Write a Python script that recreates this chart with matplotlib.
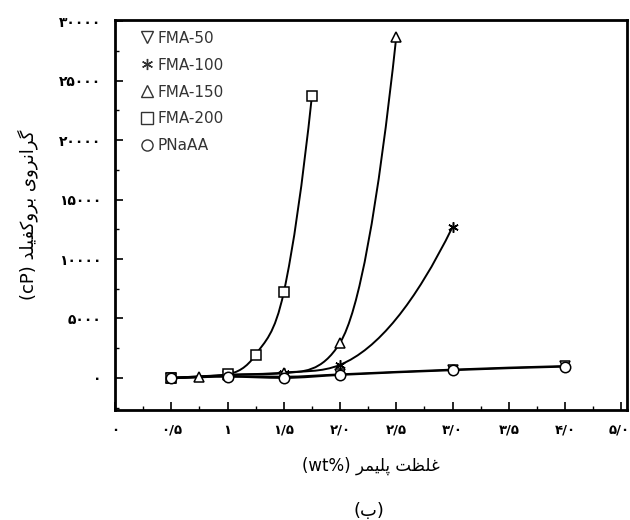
import numpy as np
import matplotlib
matplotlib.use("Agg")
import matplotlib.pyplot as plt
from matplotlib.lines import Line2D
from matplotlib.path import Path
from matplotlib.patches import PathPatch
from matplotlib.transforms import ScaledTranslation

# viscosity (cP) against polymer concentration (wt%)
series_names = ["FMA-50", "FMA-100", "FMA-150", "FMA-200", "PNaAA"]
fma50_x = [0.5, 1.0, 1.5, 2.0, 3.0, 4.0]
fma50_y = [0, 150, 100, 300, 700, 1000]
fma100_x = [0.5, 1.0, 1.5, 2.0, 3.0]
fma100_y = [0, 250, 450, 1100, 12700]
fma150_x = [0.5, 0.75, 1.0, 1.5, 2.0, 2.5]
fma150_y = [0, 100, 250, 400, 2950, 28700]
fma200_x = [0.5, 1.0, 1.25, 1.5, 1.75]
fma200_y = [0, 300, 1950, 7200, 23700]
pnaaa_x = [0.5, 1.0, 1.5, 2.0, 3.0, 4.0]
pnaaa_y = [0, 100, 0, 250, 650, 950]

x_ticks = [0, 0.5, 1.0, 1.5, 2.0, 2.5, 3.0, 3.5, 4.0, 4.5]
x_tick_labels = ["۰", "۰/۵", "۱", "۱/۵", "۲/۰", "۲/۵", "۳/۰", "۳/۵", "۴/۰", "۵/۰"]
y_ticks = [0, 5000, 10000, 15000, 20000, 25000, 30000]
y_tick_labels = ["۰", "۵۰۰۰", "۱۰۰۰۰", "۱۵۰۰۰", "۲۰۰۰۰", "۲۵۰۰۰", "۳۰۰۰۰"]

# Persian labels written in shaped presentation forms, visual order
y_label = "(cP) \ufeaa\ufee0\ufbff\ufed4\ufb90\ufeed\ufeae\ufe91 \ufbfc\ufeed\ufeae\ufee7\ufe8d\ufeae\ufb94"
x_label = "(wt%) \ufeae\ufee4\ufbff\ufee0\ufb58 \ufe96\ufec8\ufee0\ufecf"
caption = "(\ufe8f)"

markers = ["v", (6, 2, 0), "^", "s", "o"]


def smooth_path(xs, ys):
    # smooth cubic through the points (tangents clamped so it does not wiggle)
    xs = np.asarray(xs, float)
    ys = np.asarray(ys, float)
    h = np.diff(xs)
    d = np.diff(ys) / h
    m = np.zeros_like(ys)
    for i in range(1, len(xs) - 1):
        if d[i - 1] * d[i] <= 0:
            m[i] = 0
        else:
            lim = 3 * min(abs(d[i - 1]), abs(d[i]))
            m[i] = np.sign(d[i]) * min(abs(d[i - 1] + d[i]) / 2, lim)
    if len(xs) > 2:
        m[0] = np.clip(2 * d[0] - m[1], 0, 3 * d[0]) if d[0] > 0 else 0
        m[-1] = np.clip(2 * d[-1] - m[-2], 0, 3 * d[-1]) if d[-1] > 0 else 0
    else:
        m[0], m[-1] = d[0], d[-1]
    verts = [(xs[0], ys[0])]
    codes = [Path.MOVETO]
    for i in range(len(xs) - 1):
        verts += [(xs[i] + h[i] / 3, ys[i] + m[i] * h[i] / 3),
                  (xs[i + 1] - h[i] / 3, ys[i + 1] - m[i + 1] * h[i] / 3),
                  (xs[i + 1], ys[i + 1])]
        codes += [Path.CURVE4] * 3
    return Path(verts, codes)


fig = plt.figure(figsize=(6.3, 5.2), dpi=100)
ax = fig.add_axes([0.1825, 0.2115, 0.8127, 0.75])

data = [(fma50_x, fma50_y), (fma100_x, fma100_y), (fma150_x, fma150_y),
        (fma200_x, fma200_y), (pnaaa_x, pnaaa_y)]
handles = []
for (xs, ys), name, mk in zip(data, series_names, markers):
    ax.add_patch(PathPatch(smooth_path(xs, ys), fill=False,
                           edgecolor="black", lw=1.4, zorder=2))
    ax.plot(xs, ys, linestyle="none", marker=mk, ms=7.5,
            mfc="white", mec="black", mew=1.1, zorder=3)
    handles.append(Line2D([], [], linestyle="none", marker=mk, ms=8,
                          mfc="white", mec="#333333", mew=1.0, label=name))

ax.set_xlim(0, 4.55)
ax.set_ylim(-2700, 30100)
ax.set_xticks(x_ticks)
ax.set_xticklabels(x_tick_labels, fontsize=9.5, fontweight="bold")
ax.set_xticks(np.arange(0.25, 4.55, 0.5), minor=True)
ax.set_yticks(y_ticks)
ax.set_yticklabels(y_tick_labels, fontsize=10, fontweight="bold")
ax.set_yticks(np.arange(-2500, 30001, 2500), minor=True)
ax.tick_params(which="major", direction="in", length=6, width=1.2, pad=10)
ax.tick_params(which="minor", direction="in", length=3, width=1.0)
for s in ax.spines.values():
    s.set_linewidth(2)

# last x label sits against the right edge
last = ax.get_xticklabels()[-1]
last.set_horizontalalignment("right")
last.set_transform(last.get_transform() + ScaledTranslation(8 / 100, 0, fig.dpi_scale_trans))

ax.set_ylabel(y_label, fontsize=13, labelpad=15)
ax.set_xlabel(x_label, fontsize=12, labelpad=14)
fig.text(0.585, 0.008, caption, fontsize=13, ha="center")

ax.legend(handles=handles, loc="upper left", bbox_to_anchor=(0.03, 1.0),
          frameon=False, fontsize=11, handlelength=0.8, handletextpad=0.3,
          labelspacing=0.78, borderaxespad=0.3, labelcolor="#333333")

fig.savefig("out.png", dpi=100)
